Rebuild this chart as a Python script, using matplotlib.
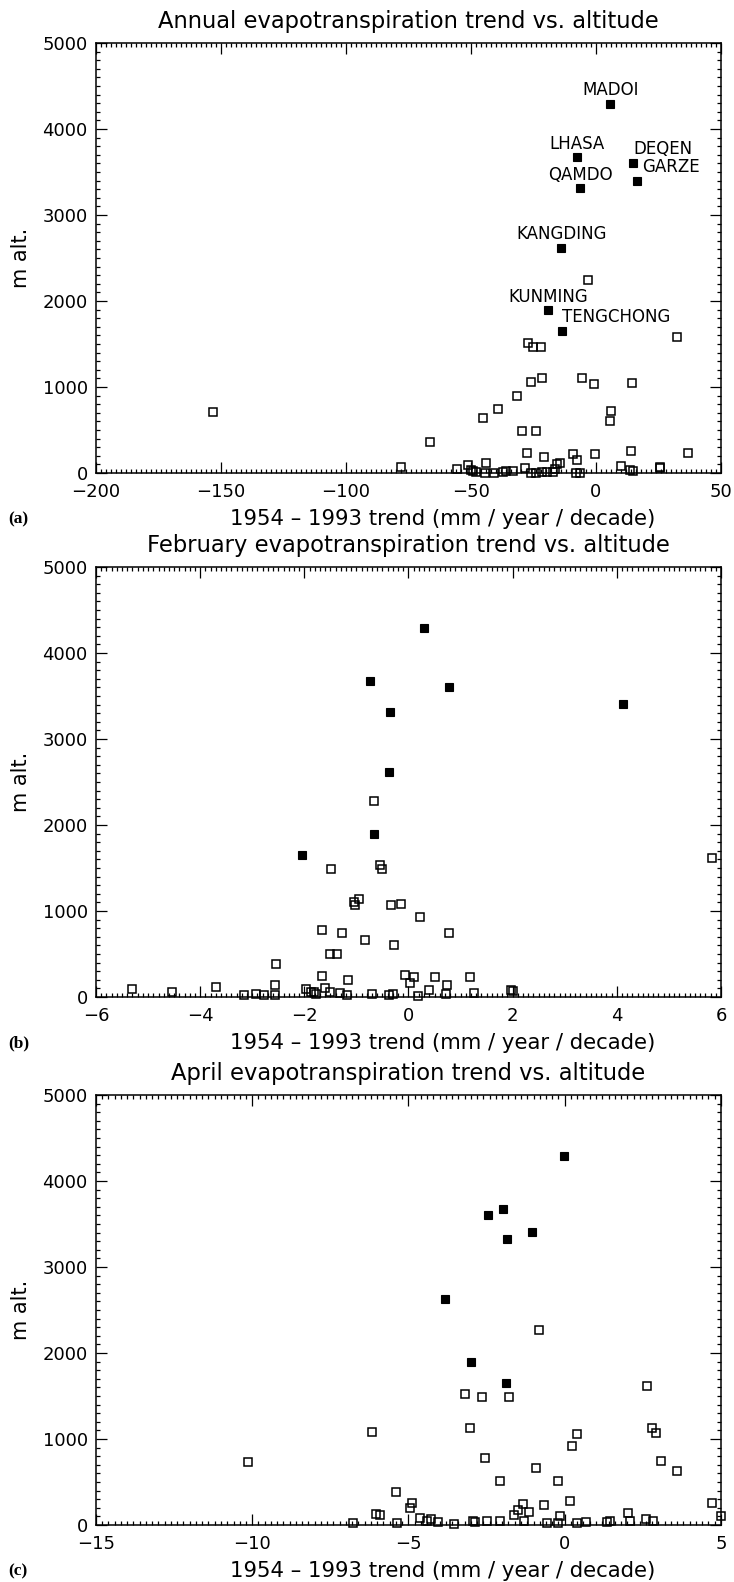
import numpy as np
import matplotlib
matplotlib.use('Agg')
import matplotlib.pyplot as plt
from matplotlib.ticker import MultipleLocator

plt.rcParams['font.family'] = ['DejaVu Sans']

# ---- station names (filled squares) ----
stations = ['MADOI', 'LHASA', 'DEQEN', 'GARZE', 'QAMDO', 'KANGDING', 'KUNMING', 'TENGCHONG']

# ---- (a) annual trend ----
ann_named_x = [5.7, -7.5, 14.9, 16.6, -6.4, -13.8, -19.2, -13.4]
ann_named_y = [4290, 3670, 3610, 3400, 3310, 2620, 1890, 1650]
ann_x = [-153, -3, 32.5, -27, -25, -22, -26, -21.7, -5.7, -0.8, 14.3, -31.5, -39, -45,
         6.2, 5.8, -29.4, -24, -66.5, -78,
         -27.7, -20.8, -9, -7.6, -0.4, 14, 37, -55.5, -51.3, -50.1, -49.2, -48.1, -43.8,
         -44.5, -40.7, -37.3, -35.9, -33.2, -28.2, -25.8, -23.8, -21.7, -19.7, -17.3,
         -15.7, -14.3, -16.3, -7.8, -6.2, 10, 13.8, 14.7, 25.7, 25.8]
ann_y = [710, 2250, 1580, 1510, 1470, 1470, 1060, 1110, 1100, 1040, 1050, 890, 750, 640,
         720, 600, 490, 490, 360, 67,
         236, 189, 220, 150, 224, 252, 228, 47, 94, 31, 20, 12, 118,
         4, 0, 12, 20, 24, 63, 4, 4, 12, 12, 16,
         102, 118, 43, 0, 0, 79, 31, 24, 71, 55]

# ---- (b) February trend ----
feb_named_x = [0.3, -0.74, 0.77, 4.11, -0.35, -0.37, -0.66, -2.05]
feb_named_y = [4290, 3670, 3610, 3410, 3310, 2620, 1890, 1650]
feb_x = [-0.66, 5.83, -0.54, -0.51, -1.48, -0.955, -1.04, -1.03, -0.33, -0.15, 0.23, -1.67,
         -1.28, 0.78, -0.84, -0.27, -1.5, -1.37, -2.55,
         -5.3, -4.54, -3.7, -2.56, -1.66, -1.61, -1.16, -0.06, 0.11, 0.51, 1.18, 0.03, 0.73,
         0.39, 1.97, 2.0, -3.15, -2.92, -2.78, -2.56, -1.96, -1.87, -1.82, -1.78, -1.51,
         -1.31, -1.18, -0.70, -0.37, -0.29, 0.18, 0.72, 1.25]
feb_y = [2280, 1620, 1530, 1490, 1490, 1140, 1110, 1070, 1070, 1080, 930, 780,
         740, 740, 660, 610, 497, 497, 385,
         95, 58, 116, 140, 240, 100, 195, 260, 229, 233, 237, 164, 140,
         84, 80, 70, 20, 39, 27, 27, 97, 58, 61, 31, 57,
         42, 23, 38, 19, 31, 11, 38, 50]

# ---- (c) April trend ----
apr_named_x = [-0.03, -1.99, -2.44, -1.06, -1.85, -3.82, -3.01, -1.87]
apr_named_y = [4293, 3672, 3609, 3410, 3320, 2625, 1898, 1656]
apr_x = [-10.12, -6.16, -0.82, 2.64, -3.2, -2.66, -1.78, -3.04, 0.39, 0.22, 2.78, 2.91,
         3.08, 3.59, -2.54, -0.92, -2.06, -0.23, -5.4, -4.89, -4.95, -1.34, -0.65, 0.18,
         4.71, -1.48, -1.15, -1.63, 2.02, 5.0, -6.04, -5.92, -0.15, -4.62, -4.29, -4.4,
         -4.06, -6.77, -5.38, -3.53, -2.92, -2.86, -2.48, -2.08, -1.31, -0.57, -0.21, 0.4,
         0.69, 1.35, 1.44, 2.1, 2.6, 2.82]
apr_y = [727, 1080, 2270, 1620, 1523, 1484, 1488, 1133, 1063, 922, 1125, 1074,
         746, 625, 777, 668, 508, 512, 387, 258, 199, 242, 238, 277,
         258, 172, 148, 113, 145, 109, 133, 121, 102, 82, 70, 43,
         31, 23, 23, 16, 43, 31, 43, 47, 47, 23, 23, 23,
         31, 39, 47, 51, 70, 47]

titles = ['Annual evapotranspiration trend vs. altitude',
          'February evapotranspiration trend vs. altitude',
          'April evapotranspiration trend vs. altitude']
xlims = [(-200, 50), (-6, 6), (-15, 5)]
xmajor = [50, 2, 5]
xminor = [2, 0.1, 0.2]
letters = ['(a)', '(b)', '(c)']

W, H = 734, 1582
fig = plt.figure(figsize=(W / 100, H / 100), dpi=100)

left, width, height = 96, 625, 430
bottoms = [473, 997, 1525]

panels = [(ann_x, ann_y, ann_named_x, ann_named_y),
          (feb_x, feb_y, feb_named_x, feb_named_y),
          (apr_x, apr_y, apr_named_x, apr_named_y)]

for i, (ox, oy, fx, fy) in enumerate(panels):
    ax = fig.add_axes([left / W, 1 - bottoms[i] / H, width / W, height / H])
    ax.plot(ox, oy, 's', ms=5.8, mfc='none', mec='black', mew=1.1, clip_on=False)
    ax.plot(fx, fy, 's', ms=6.4, mfc='black', mec='black', mew=0.8)
    ax.set_xlim(*xlims[i])
    ax.set_ylim(0, 5000)
    ax.xaxis.set_major_locator(MultipleLocator(xmajor[i]))
    ax.xaxis.set_minor_locator(MultipleLocator(xminor[i]))
    ax.yaxis.set_major_locator(MultipleLocator(1000))
    ax.yaxis.set_minor_locator(MultipleLocator(100))
    ax.tick_params(which='both', direction='in', top=True, right=True, width=0.9,
                   labelsize=13)
    ax.tick_params(axis='y', pad=6)
    ax.tick_params(axis='x', pad=7.5)
    ax.tick_params(which='major', length=8)
    ax.tick_params(which='minor', length=3)
    for s in ax.spines.values():
        s.set_linewidth(1.1)
    ax.set_title(titles[i], fontsize=16.3, pad=11)
    ax.set_ylabel('m alt.', fontsize=15, va='center')
    ax.yaxis.set_label_coords(-0.12, 0.5)
    ax.set_xlabel('1954 \u2013 1993 trend (mm / year / decade)', fontsize=15.3)
    ax.xaxis.set_label_coords(0.555, -0.083)
    fig.text(8 / W, 1 - (bottoms[i] + 46) / H, letters[i], family='Liberation Serif',
             weight='bold', fontsize=12.5, va='center')

    if i == 0:
        for name, x, y in zip(stations, fx, fy):
            if name in ('DEQEN', 'GARZE', 'TENGCHONG'):
                dx = {'DEQEN': 0.0, 'GARZE': 2.0, 'TENGCHONG': 0.0}[name]
                ax.text(x + dx, y + 160, name, fontsize=12, ha='left', va='center')
            else:
                ax.text(x, y + 160, name, fontsize=12, ha='center', va='center')

fig.savefig('out.png', dpi=100)
